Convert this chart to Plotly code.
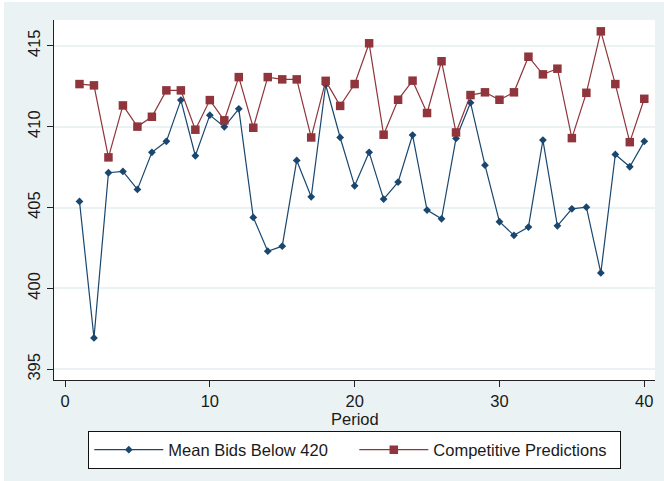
import plotly.graph_objects as go

periods = list(range(1, 41))
mean_bids = [405.38, 396.94, 407.15, 407.23, 406.12, 408.41, 409.09, 411.64, 408.20, 410.71,
             409.99, 411.10, 404.39, 402.30, 402.61, 407.91, 405.66, 412.59, 409.33, 406.34,
             408.41, 405.52, 406.57, 409.48, 404.84, 404.30, 409.27, 411.48, 407.62, 404.12,
             403.28, 403.79, 409.17, 403.87, 404.92, 405.02, 400.96, 408.28, 407.52, 409.09]
competitive = [412.63, 412.55, 408.10, 411.31, 410.00, 410.61, 412.24, 412.24, 409.81, 411.64,
               410.39, 413.06, 409.93, 413.06, 412.92, 412.92, 409.33, 412.83, 411.28, 412.63,
               415.15, 409.50, 411.66, 412.84, 410.84, 414.04, 409.64, 411.95, 412.12, 411.66,
               412.12, 414.32, 413.23, 413.58, 409.29, 412.09, 415.89, 412.63, 409.04, 411.72]
x_ticks = [0, 10, 20, 30, 40]
y_ticks = [395, 400, 405, 410, 415]

navy = "#1a476f"
maroon = "#90353b"
bg = "#eaf2f3"
font = "Liberation Sans, Arial, sans-serif"

fig = go.Figure()
fig.add_trace(go.Scatter(
    x=periods, y=mean_bids, mode="lines+markers", name="Mean Bids Below 420",
    line=dict(color=navy, width=1.2),
    marker=dict(symbol="diamond", size=6, color=navy),
))
fig.add_trace(go.Scatter(
    x=periods, y=competitive, mode="lines+markers", name="Competitive Predictions",
    line=dict(color=maroon, width=1.2),
    marker=dict(symbol="square", size=8.5, color=maroon),
))

fig.update_layout(
    width=664, height=481,
    margin=dict(l=54, r=9, t=20, b=101),
    paper_bgcolor=bg, plot_bgcolor="white",
    font=dict(family=font, size=16.5, color="#1a1a1a"),
    showlegend=True,
    legend=dict(
        orientation="h", x=0.5, xanchor="center", y=-0.1422, yanchor="top",
        bgcolor="white", bordercolor="#111", borderwidth=1.3,
        font=dict(family=font, size=16.5, color="#1a1a1a"),
        itemwidth=69, entrywidth=181, traceorder="normal",
    ),
    xaxis=dict(
        range=[-0.76, 40.74], tickmode="array", tickvals=x_ticks,
        showgrid=False, zeroline=False,
        showline=True, linecolor="#222", linewidth=1.2,
        ticks="outside", ticklen=6, tickcolor="#222", tickwidth=1.2,
        tickfont=dict(size=16.5),
    ),
    yaxis=dict(
        range=[394.34, 416.59], tickmode="array", tickvals=y_ticks,
        showgrid=True, gridcolor=bg, gridwidth=1.5, zeroline=False,
        showline=True, linecolor="#222", linewidth=1.2,
        ticks="outside", ticklen=6, tickcolor="#222", tickwidth=1.2,
        tickangle=-90, tickfont=dict(size=16.5),
    ),
    annotations=[
        dict(text="Period", xref="paper", yref="paper", x=0.5, y=-39 / 360,
             xanchor="center", yanchor="middle", showarrow=False,
             font=dict(family=font, size=16.5, color="#1a1a1a")),
    ],
    shapes=[
        dict(type="rect", xref="paper", yref="paper", x0=-0.1, x1=-50/601, y0=-0.4, y1=1.1,
             fillcolor="white", line=dict(width=0), layer="above"),
        dict(type="rect", xref="paper", yref="paper", x0=-0.1, x1=1.1, y0=1 + 18/360, y1=1.1,
             fillcolor="white", line=dict(width=0), layer="above"),
    ],
)

fig.write_html("out.html")
